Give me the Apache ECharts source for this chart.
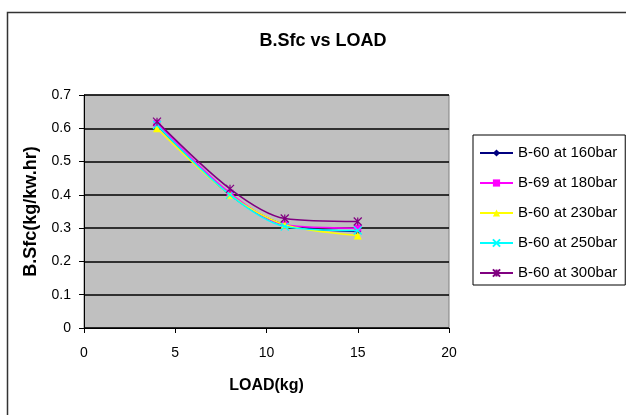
<!DOCTYPE html>
<html>
<head>
<meta charset="utf-8">
<script src="https://cdn.jsdelivr.net/npm/echarts@6/dist/echarts.min.js"></script>
<style>html,body{margin:0;padding:0;background:#fff;}#c{width:626px;height:415px;}</style>
</head>
<body>
<div id="c"></div>
<script>
var loads = [4, 8, 11, 15];
var seriesNames = ['B-60 at 160bar', 'B-69 at 180bar', 'B-60 at 230bar', 'B-60 at 250bar', 'B-60 at 300bar'];
var b60_160 = [0.61, 0.40, 0.31, 0.29];
var b69_180 = [0.615, 0.405, 0.31, 0.30];
var b60_230 = [0.60, 0.40, 0.31, 0.278];
var b60_250 = [0.61, 0.40, 0.305, 0.293];
var b60_300 = [0.62, 0.418, 0.329, 0.32];
var xTicks = [0, 5, 10, 15, 20];
var yTicks = [0, 0.1, 0.2, 0.3, 0.4, 0.5, 0.6, 0.7];

var values = [b60_160, b69_180, b60_230, b60_250, b60_300];
var colors = ['#000080', '#FF00FF', '#FFFF00', '#00FFFF', '#800080'];
var symbols = ['diamond', 'rect', 'triangle',
  'path://M0,0L10,10M10,0L0,10',
  'path://M0,0L10,10M10,0L0,10M5,0L5,10'];
var sizes = [7, 7, 8, 8, 8];

var font = '"Liberation Sans", Arial, sans-serif';
var series = values.map(function (v, i) {
  var isPath = i >= 3;
  return {
    name: seriesNames[i],
    type: 'line',
    smooth: 0.3,
    data: loads.map(function (x, j) { return [x, v[j]]; }),
    symbol: symbols[i],
    symbolSize: sizes[i],
    showAllSymbol: true,
    lineStyle: { color: colors[i], width: 1.5 },
    itemStyle: isPath ? { color: colors[i], borderColor: colors[i], borderWidth: 1.2 } : { color: colors[i], borderWidth: 0 },
    emphasis: { disabled: true },
    z: 3 + i
  };
});

var chart = echarts.init(document.getElementById('c'), null, { renderer: 'canvas' });
chart.setOption({
  animation: false,
  backgroundColor: '#fff',
  graphic: [{
    type: 'rect', left: 5, top: 10,
    shape: { x: 0, y: 0, width: 700, height: 500 },
    style: { fill: 'none', stroke: '#333', lineWidth: 1.5 },
    silent: true
  }],
  title: {
    text: 'B.Sfc vs LOAD',
    left: 318, top: 27, textAlign: 'center',
    textStyle: { fontFamily: font, fontSize: 18, fontWeight: 'bold', color: '#000' }
  },
  legend: {
    orient: 'vertical',
    left: 473, top: 135,
    width: 152,
    borderColor: '#000', borderWidth: 1,
    padding: [10, 8, 4, 6],
    itemWidth: 33, itemHeight: 9, itemGap: 14,
    textStyle: { fontFamily: font, fontSize: 15, color: '#000', lineHeight: 16 },
    data: seriesNames
  },
  grid: {
    left: 84, right: 177, top: 95, bottom: 87,
    show: true, backgroundColor: '#C0C0C0', borderColor: '#808080', borderWidth: 1
  },
  xAxis: {
    type: 'value', min: 0, max: 20, interval: 5,
    name: 'LOAD(kg)', nameLocation: 'middle', nameGap: 50,
    nameTextStyle: { fontFamily: font, fontSize: 16, fontWeight: 'bold', color: '#000' },
    axisLine: { show: true, onZero: false, lineStyle: { color: '#000', width: 1 } },
    axisTick: { show: true, inside: false, length: 5, lineStyle: { color: '#000' } },
    axisLabel: { fontFamily: font, fontSize: 14, color: '#000', margin: 18,
      formatter: function (v) { return xTicks.indexOf(v) >= 0 ? String(v) : ''; } },
    splitLine: { show: false }
  },
  yAxis: {
    type: 'value', min: 0, max: 0.7, interval: 0.1,
    name: 'B.Sfc(kg/kw.hr)', nameLocation: 'middle', nameGap: 44, nameRotate: 90,
    nameTextStyle: { fontFamily: font, fontSize: 18, fontWeight: 'bold', color: '#000' },
    axisLine: { show: true, lineStyle: { color: '#000', width: 1 } },
    axisTick: { show: true, inside: false, length: 5, lineStyle: { color: '#000' } },
    axisLabel: { fontFamily: font, fontSize: 14, color: '#000', margin: 13,
      formatter: function (v) {
        for (var k = 0; k < yTicks.length; k++) { if (Math.abs(yTicks[k] - v) < 1e-9) return String(yTicks[k]); }
        return '';
      } },
    splitLine: { show: true, lineStyle: { color: '#000', width: 1.5 } }
  },
  series: series
});
</script>
</body>
</html>
